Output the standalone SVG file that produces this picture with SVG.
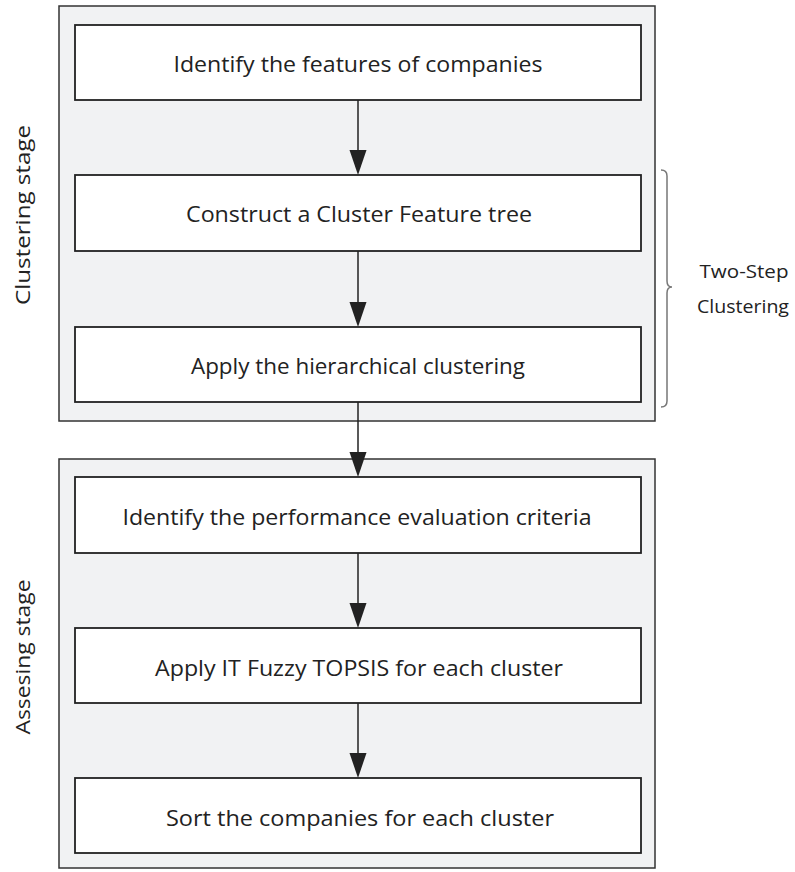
<svg xmlns="http://www.w3.org/2000/svg" width="795" height="872" viewBox="0 0 795 872">
<style>
.stage{fill:#f1f2f3;stroke:#333;stroke-width:1.5}
.box{fill:#fff;stroke:#222;stroke-width:1.8}
.t{font-family:"Open Sans","Liberation Sans",Arial,sans-serif;font-size:22px;fill:#222;text-anchor:middle}
.side{font-family:"Open Sans","Liberation Sans",Arial,sans-serif;font-size:20px;fill:#222;text-anchor:middle}
.lab{font-family:"Open Sans","Liberation Sans",Arial,sans-serif;font-size:18px;fill:#222;text-anchor:middle}
.conn{stroke:#222;stroke-width:1.5;fill:none}
.ah{fill:#222}
</style>
<rect width="795" height="872" fill="#fff"/>
<g id="clustering-stage">
<rect class="stage" x="59" y="6" width="596" height="415"/>
<text class="side" transform="translate(30,215) rotate(-90)" textLength="180" lengthAdjust="spacingAndGlyphs">Clustering stage</text>
</g>
<g id="assessing-stage">
<rect class="stage" x="59" y="459" width="596" height="409"/>
<text class="side" transform="translate(30,657) rotate(-90)" textLength="155" lengthAdjust="spacingAndGlyphs">Assesing stage</text>
</g>
<g id="n1"><rect class="box" x="75" y="25" width="566" height="75"/><text class="t" x="358" y="72" textLength="369" lengthAdjust="spacingAndGlyphs">Identify the features of companies</text></g>
<g id="n2"><rect class="box" x="75" y="175" width="566" height="76"/><text class="t" x="359" y="222" textLength="346" lengthAdjust="spacingAndGlyphs">Construct a Cluster Feature tree</text></g>
<g id="n3"><rect class="box" x="75" y="327" width="566" height="75"/><text class="t" x="358" y="374" textLength="334" lengthAdjust="spacingAndGlyphs">Apply the hierarchical clustering</text></g>
<g id="n4"><rect class="box" x="75" y="477" width="566" height="76"/><text class="t" x="357" y="525" textLength="469" lengthAdjust="spacingAndGlyphs">Identify the performance evaluation criteria</text></g>
<g id="n5"><rect class="box" x="75" y="628" width="566" height="75"/><text class="t" x="359" y="676" textLength="408" lengthAdjust="spacingAndGlyphs">Apply IT Fuzzy TOPSIS for each cluster</text></g>
<g id="n6"><rect class="box" x="75" y="778" width="566" height="75"/><text class="t" x="360" y="826" textLength="388" lengthAdjust="spacingAndGlyphs">Sort the companies for each cluster</text></g>
<g id="connectors">
<line class="conn" x1="358" y1="100" x2="358" y2="152"/><polygon class="ah" points="349.5,150 366.5,150 358,175"/>
<line class="conn" x1="358" y1="251" x2="358" y2="304"/><polygon class="ah" points="349.5,302 366.5,302 358,327"/>
<line class="conn" x1="358" y1="402" x2="358" y2="454"/><polygon class="ah" points="349.5,452 366.5,452 358,477"/>
<line class="conn" x1="358" y1="553" x2="358" y2="605"/><polygon class="ah" points="349.5,603 366.5,603 358,628"/>
<line class="conn" x1="358" y1="703" x2="358" y2="755"/><polygon class="ah" points="349.5,753 366.5,753 358,778"/>
</g>
<g id="two-step">
<path d="M661,170 Q667,170 667,176 L667,281 Q667,287 672,287 Q667,287 667,293 L667,401 Q667,407 661,407" fill="none" stroke="#777" stroke-width="1.5"/>
<text class="lab" x="744" y="278" textLength="89" lengthAdjust="spacingAndGlyphs">Two-Step</text>
<text class="lab" x="743" y="313" textLength="92" lengthAdjust="spacingAndGlyphs">Clustering</text>
</g>
</svg>
